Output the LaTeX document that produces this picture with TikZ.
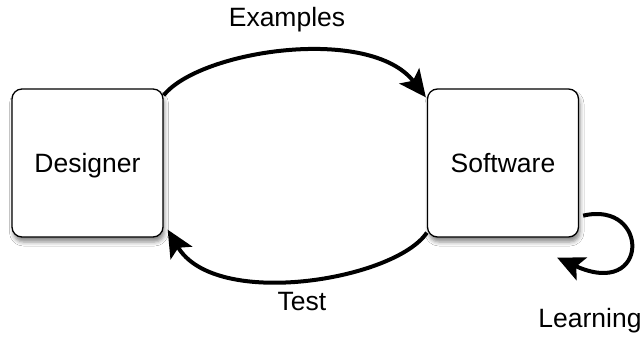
\documentclass[tikz,border=0pt]{standalone}
\usepackage{fontspec}
\setmainfont{Liberation Sans}
\usetikzlibrary{arrows.meta,shadows.blur}
\begin{document}
\begin{tikzpicture}[x=1pt,y=-1pt,
  agent/.style={draw=black, line width=1.3pt, fill=white, rounded corners=10pt,
    minimum width=151pt, minimum height=148pt, inner sep=0pt, text depth=0pt,
    blur shadow={shadow xshift=1.5pt, shadow yshift=-5pt, shadow blur radius=4pt, shadow opacity=45}},
  flow/.style={line width=4pt, -{Stealth[length=27pt 0 0,width=25pt 0 0,inset=6pt 0 0]}},
  lbl/.style={anchor=base, inner sep=0pt},
  font=\fontsize{26.5}{30}\selectfont]
\fill[white] (0,0) rectangle (644,339);
\useasboundingbox (0,0) rectangle (644,339);
\node[agent] (d) at (87.5,163) {Designer};
\node[agent] (s) at (503,163) {Software};
\coordinate (lend) at ([xshift=-22pt,yshift=-20pt]s.south east);
\draw[flow] ([yshift=-7pt]d.north east) .. controls (200,50) and (370,25) .. ([xshift=-1pt,yshift=-9pt]s.north west);
\draw[flow] ([yshift=5pt]s.south west) .. controls (395,280) and (215,310) .. ([xshift=4pt,yshift=8pt]d.south east);
\draw[flow] ([xshift=4pt,yshift=22pt]s.south east) .. controls (650,200) and (650,300) .. (lend);
\node[lbl] (ex) at (287,27) {Examples};
\node[lbl] (te) at (302,310) {Test};
\node[lbl] (le) at (590,327) {Learning};
\end{tikzpicture}
\end{document}
